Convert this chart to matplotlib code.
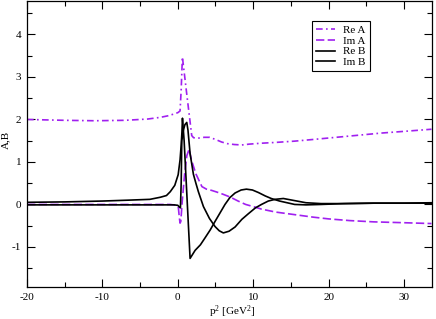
import matplotlib
matplotlib.use("Agg")
import matplotlib.pyplot as plt
from matplotlib.ticker import MultipleLocator, FixedLocator

plt.rcParams['font.family'] = ['Liberation Serif', 'DejaVu Serif']
plt.rcParams['mathtext.fontset'] = 'custom'
plt.rcParams['mathtext.rm'] = 'Liberation Serif'
plt.rcParams['mathtext.default'] = 'regular'
plt.rcParams['axes.unicode_minus'] = False

PURPLE = '#a020f0'

# Re A (dash-dot)
reA_x = [-20, -15, -11, -7, -4, -2.3, -1.2, -0.5, 0.0, 0.3, 0.45, 0.61, 1.2, 1.85,
         2.1, 2.7, 3.5, 4.2, 5.0, 5.8, 6.6, 7.5, 8.5, 9.5, 11, 13, 15.5, 18, 21,
         24, 27, 30, 33.65]
reA_y = [2.00, 1.98, 1.97, 1.98, 2.01, 2.05, 2.09, 2.13, 2.16, 2.20, 2.70, 3.47, 2.58, 1.62,
         1.57, 1.56, 1.58, 1.58, 1.53, 1.47, 1.43, 1.41, 1.40, 1.42, 1.44, 1.46, 1.49, 1.53, 1.58,
         1.63, 1.68, 1.72, 1.77]

# Im A (dashed)
imA_x = [-20, -5, -1, -0.2, 0.08, 0.2, 0.3, 0.4, 0.6, 0.9, 1.2, 1.5, 1.8, 2.4, 3.2,
         3.8, 4.5, 5.2, 6.0, 7.0, 8.0, 9.0, 10, 11.1, 13, 15.5, 18, 20, 22.8, 26, 30, 33.65]
imA_y = [0.0, 0.0, 0.0, -0.02, -0.08, -0.3, -0.44, -0.4, 0.1, 0.7, 1.15, 1.3, 1.05, 0.72, 0.42,
         0.36, 0.33, 0.29, 0.24, 0.17, 0.08, 0.0, -0.05, -0.11, -0.18, -0.24, -0.3, -0.34, -0.38,
         -0.41, -0.43, -0.45]

# Re B (solid)
reB_x = [-20, -15, -10, -6.7, -3.7, -2.3, -1.5, -1.0, -0.4, 0.05, 0.3, 0.45, 0.55, 0.62,
         0.84, 1.63, 2.3, 3.0, 3.6, 4.3, 4.94, 5.6, 6.26, 6.9, 7.6, 8.4, 9.1, 9.9, 10.7,
         11.6, 12.4, 13.5, 15.5, 17, 19, 22, 26, 30, 33.65]
reB_y = [0.05, 0.06, 0.08, 0.10, 0.12, 0.17, 0.21, 0.30, 0.45, 0.70, 1.05, 1.40, 1.70, 2.03,
         1.50, -1.27, -1.08, -0.95, -0.79, -0.60, -0.40, -0.20, 0.0, 0.16, 0.27, 0.34, 0.36, 0.34, 0.28,
         0.20, 0.14, 0.08, 0.0, -0.01, 0.0, 0.02, 0.03, 0.03, 0.04]

# Im B (solid)
imB_x = [-20, -5, -0.5, 0.0, 0.2, 0.35, 0.45, 0.53, 0.74, 0.95, 1.19, 1.35, 1.63, 2.07,
         2.4, 2.73, 3.4, 4.2, 4.94, 5.5, 6.04, 6.8, 7.6, 8.5, 9.35, 10.3, 11.1, 12.0, 12.9,
         14.0, 15.5, 17, 19, 22, 26, 30, 33.65]
imB_y = [-0.01, -0.01, -0.01, -0.02, -0.06, -0.08, 0.5, 1.5, 1.75, 1.88, 1.93, 1.75, 1.2, 0.71,
         0.5, 0.3, -0.05, -0.33, -0.52, -0.62, -0.67, -0.63, -0.53, -0.35, -0.22, -0.08, 0.0, 0.08, 0.12,
         0.14, 0.09, 0.04, 0.02, 0.02, 0.03, 0.03, 0.03]

fig = plt.figure(figsize=(4.36, 3.19), dpi=100)
ax = fig.add_axes([27/436, 1 - 287.3/319, 404.5/436, 286.8/319])

ax.plot(reA_x, reA_y, color=PURPLE, lw=1.2, ls=(0, (4, 2, 1, 2)), label='Re A')
ax.plot(imA_x, imA_y, color=PURPLE, lw=1.2, ls=(0, (5, 2)), label='Im A')
ax.plot(reB_x, reB_y, color='black', lw=1.2, label='Re B')
ax.plot(imB_x, imB_y, color='black', lw=1.2, label='Im B')

ax.set_xlim(-20, 33.65)
ax.set_ylim(-1.95, 4.8)
ax.xaxis.set_major_locator(MultipleLocator(10))
ax.xaxis.set_minor_locator(MultipleLocator(5))
ax.yaxis.set_major_locator(FixedLocator([-1, 0, 1, 2, 3, 4]))
ax.yaxis.set_minor_locator(MultipleLocator(0.5))
ax.tick_params(which='both', direction='in', top=True, right=True, labelsize=8, width=0.8)
ax.tick_params(which='major', length=6, pad=4)
ax.tick_params(which='minor', length=3.5)
for s in ax.spines.values():
    s.set_linewidth(0.9)

ax.set_xlabel(r'p$^2$ [GeV$^2$]', fontsize=8, va='center')
ax.set_ylabel('A,B', fontsize=8, va='center')
ax.xaxis.set_label_coords(0.507, -0.085)
ax.yaxis.set_label_coords(-0.052, 0.514)

leg = ax.legend(loc='upper left', bbox_to_anchor=(0.704, 0.9285), borderaxespad=0,
                fontsize=8, frameon=True, fancybox=False, edgecolor='black',
                framealpha=1, handlelength=1.75, handletextpad=0.75, labelspacing=0.1,
                borderpad=0.35)
leg.get_frame().set_linewidth(0.8)

fig.savefig('out.png', dpi=100)
